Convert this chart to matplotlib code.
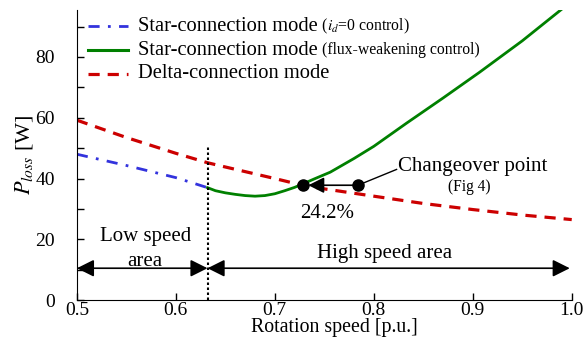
import matplotlib.pyplot as plt

plt.rcParams['font.family'] = ['Liberation Serif', 'DejaVu Serif']
plt.rcParams['mathtext.fontset'] = 'stix'

# Delta-connection mode (red dashed)
delta_x = [0.50, 0.55, 0.60, 0.632, 0.65, 0.70, 0.728, 0.75, 0.80, 0.85, 0.90, 0.95, 1.00]
delta_y = [59.2, 53.5, 48.3, 45.2, 43.8, 40.0, 37.8, 36.6, 34.2, 31.8, 29.8, 28.0, 26.5]

# Star-connection, id=0 control (blue dash-dot)
star_id0_x = [0.50, 0.55, 0.60, 0.632]
star_id0_y = [48.0, 44.3, 40.3, 37.0]

# Star-connection, flux-weakening control (green)
star_fw_x = [0.632, 0.64, 0.65, 0.66, 0.67, 0.68, 0.69, 0.70, 0.71, 0.72, 0.728, 0.74,
             0.756, 0.78, 0.80, 0.833, 0.87, 0.907, 0.95, 0.991, 1.00]
star_fw_y = [37.0, 36.0, 35.3, 34.8, 34.4, 34.2, 34.4, 35.0, 36.0, 37.1, 38.2, 39.9,
             42.1, 46.6, 50.6, 58.2, 66.5, 75.0, 85.3, 96.0, 98.5]

changeover_x = 0.728
changeover_y = 37.8
fig4_x = 0.784
boundary_x = 0.632

fig = plt.figure(figsize=(5.87, 3.38), dpi=100)
ax = fig.add_axes([0.131, 0.112, 0.843, 0.858])

ax.plot(delta_x, delta_y, color='#cc0000', linestyle=(0, (3.5, 2.5)), lw=2.3)
ax.plot(star_id0_x, star_id0_y, color='#3333dd', linestyle=(0, (4, 3, 1, 3)), lw=2)
ax.plot(star_fw_x, star_fw_y, color='#008000', lw=2)

ax.plot([boundary_x, boundary_x], [0, 50.5], color='black', linestyle=(0, (1.2, 1.2)), lw=1.5)

# changeover point
ax.annotate('', xy=(changeover_x + 0.003, changeover_y), xytext=(fig4_x, changeover_y),
            arrowprops=dict(arrowstyle='-|>', color='black', lw=1.2, mutation_scale=24))
ax.plot([changeover_x, fig4_x], [changeover_y, changeover_y], 'o', color='black', ms=8)
ax.plot([fig4_x, 0.823], [changeover_y, 43.0], color='black', lw=1)
ax.text(0.824, 44.0, 'Changeover point', fontsize=15, ha='left', va='center')
ax.text(0.8965, 37.3, '(Fig 4)', fontsize=11.2, ha='center', va='center')
ax.text(0.7525, 28.6, '24.2%', fontsize=15, ha='center', va='center')

# speed area arrows
ax.annotate('', xy=(0.5, 10.5), xytext=(boundary_x, 10.5),
            arrowprops=dict(arrowstyle='<|-|>', color='black', lw=1.2, mutation_scale=26,
                            shrinkA=0, shrinkB=0))
ax.annotate('', xy=(boundary_x, 10.5), xytext=(0.998, 10.5),
            arrowprops=dict(arrowstyle='<|-|>', color='black', lw=1.2, mutation_scale=26,
                            shrinkA=0, shrinkB=0))
ax.text(0.569, 20.8, 'Low speed', fontsize=15, ha='center', va='center')
ax.text(0.569, 12.6, 'area', fontsize=15, ha='center', va='center')
ax.text(0.811, 15.5, 'High speed area', fontsize=15, ha='center', va='center')

# manual legend
legend_rows = [
    ('Star-connection mode', ' ($i_d$=0 control)', dict(color='#3333dd', linestyle=(0, (4, 3, 1, 3)), lw=2)),
    ('Star-connection mode', ' (flux-weakening control)', dict(color='#008000', lw=2.2)),
    ('Delta-connection mode', '', dict(color='#cc0000', linestyle=(0, (3.5, 2.5)), lw=2.3)),
]
for i, (main_txt, small_txt, style) in enumerate(legend_rows):
    yy = 0.945 - i * 0.0825
    ax.plot([0.022, 0.103], [yy, yy], transform=ax.transAxes, **style)
    t = ax.text(0.123, yy, main_txt, transform=ax.transAxes, fontsize=14.8, ha='left', va='center')
    if small_txt:
        ax.annotate(small_txt, xy=(1, 0.5), xycoords=t, fontsize=11.3, ha='left', va='center')

ax.set_xlim(0.5, 1.0)
ax.set_ylim(0, 95.4)
ax.set_xticks([0.5, 0.6, 0.7, 0.8, 0.9, 1.0])
ax.set_xticklabels(['0.5', '0.6', '0.7', '0.8', '0.9', '1.0'])
ax.set_yticks(range(0, 100, 10))
ax.set_yticklabels(['0', '', '20', '', '40', '', '60', '', '80', ''])
ax.tick_params(direction='in', length=5, width=1, labelsize=14)
ax.tick_params(axis='x', pad=1)
ax.tick_params(axis='y', pad=16)
ax.spines['top'].set_visible(False)
ax.spines['right'].set_visible(False)
ax.set_xlabel('Rotation speed [p.u.]', fontsize=14.3)
ax.xaxis.set_label_coords(0.52, -0.063, transform=ax.transAxes)
ax.xaxis.label.set_va('top')
ax.set_ylabel('$P_{loss}$ [W]', fontsize=16, labelpad=0)

fig.savefig('out.png', dpi=100)
